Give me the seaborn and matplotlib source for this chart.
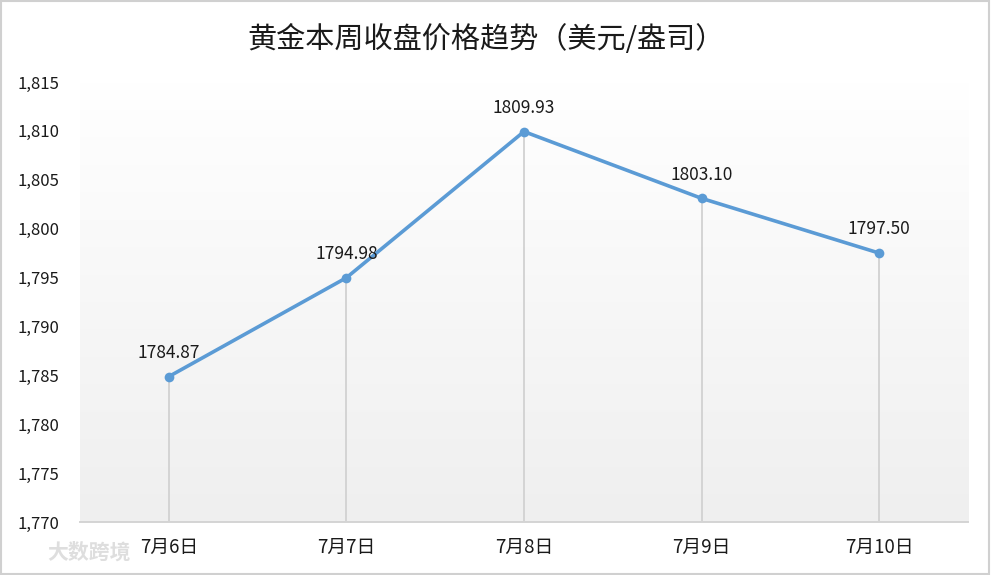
import numpy as np
import pandas as pd
import matplotlib.pyplot as plt
from matplotlib.patches import Rectangle
import seaborn as sns

dates = ["7月6日", "7月7日", "7月8日", "7月9日", "7月10日"]
prices = [1784.87, 1794.98, 1809.93, 1803.10, 1797.50]
yticks = [1770, 1775, 1780, 1785, 1790, 1795, 1800, 1805, 1810, 1815]

sns.set_theme(style="white")
plt.rcParams['font.family'] = ['Noto Sans CJK SC', 'DejaVu Sans']

df = pd.DataFrame({"pos": range(len(dates)), "date": dates, "price": prices})

fig = plt.figure(figsize=(9.91, 5.75), dpi=100)
ax = fig.add_axes([0.0807, 0.0922, 0.8961, 0.7652])

# gradient background of the plot area
grad = np.linspace(1, 0, 256).reshape(-1, 1)
ax.imshow(grad, extent=[-0.5, 4.5, 1770, 1815], aspect='auto',
          cmap=plt.matplotlib.colors.LinearSegmentedColormap.from_list(
              "bg", ["#efefef", "#ffffff"]), vmin=0, vmax=1, zorder=0)

# drop lines
ax.vlines(df["pos"], 1770, df["price"], color="#d4d4d4", lw=1.4, zorder=1)

sns.lineplot(data=df, x="pos", y="price", ax=ax, color="#5b9bd5", lw=2.6,
             marker="o", markersize=7, markeredgewidth=0, zorder=3)

for x, y in zip(df["pos"], df["price"]):
    ax.text(x, y + 1.5, f"{y:.2f}", ha="center", va="bottom", fontsize=12.5,
            color="#1a1a1a", zorder=4)

ax.set_xlim(-0.5, 4.5)
ax.set_ylim(1770, 1815)
ax.set_yticks(yticks)
ax.set_yticklabels([f"{v:,}" for v in yticks], fontsize=12, color="#1a1a1a")
ax.set_xticks(range(len(dates)))
ax.set_xticklabels(dates, fontsize=13.5, color="#1a1a1a")
ax.tick_params(axis="y", pad=15, length=0)
ax.tick_params(axis="x", pad=11, length=0)
ax.set_xlabel("")
ax.set_ylabel("")
for side in ["top", "right", "left"]:
    ax.spines[side].set_visible(False)
ax.spines["bottom"].set_color("#d4d4d4")
ax.spines["bottom"].set_linewidth(1.4)
ax.grid(False)

fig.text(0.49, 0.93, "黄金本周收盘价格趋势（美元/盎司）", ha="center", va="center",
         fontsize=21, color="#1a1a1a")

# watermark
fig.text(0.048, 0.04, "大数跨境", ha="left", va="center", fontsize=15,
         color="#dedede", fontweight="bold")

fig.patches.append(Rectangle((0.001, 0.002), 0.997, 0.996, transform=fig.transFigure,
                             fill=False, edgecolor="#d0d0d0", lw=1.5))

fig.savefig("out.png", dpi=100, facecolor="white")
